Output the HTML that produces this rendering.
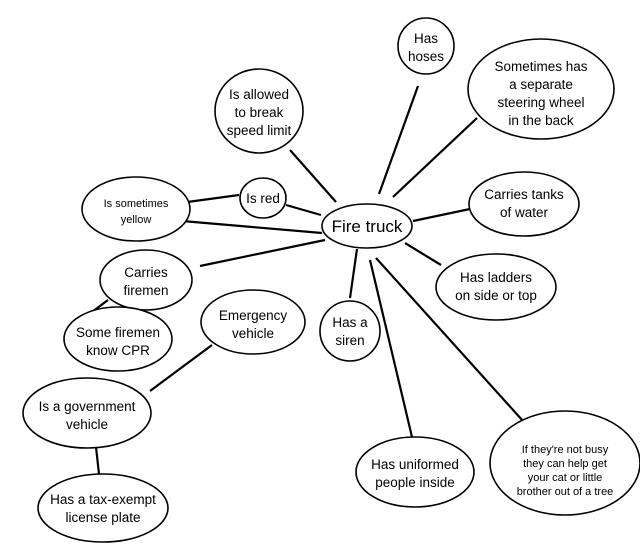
<!DOCTYPE html>
<html><head><meta charset="utf-8"><style>
html,body{margin:0;padding:0;background:#fff;}
svg{display:block;}
text{font-family:"Liberation Sans",Arial,sans-serif;fill:#000;text-anchor:middle;}
</style></head><body>
<svg width="640" height="549" viewBox="0 0 640 549" xmlns="http://www.w3.org/2000/svg">
<g stroke="#000" stroke-width="2.2" fill="none">
<line x1="379" y1="194" x2="418" y2="86"/>
<line x1="393" y1="197" x2="477" y2="118"/>
<line x1="336" y1="202" x2="290" y2="150"/>
<line x1="286" y1="205" x2="321" y2="215"/>
<line x1="180" y1="203" x2="239" y2="195"/>
<line x1="182" y1="221" x2="322" y2="233"/>
<line x1="413" y1="221" x2="470" y2="209"/>
<line x1="405" y1="243" x2="441" y2="265"/>
<line x1="200" y1="266" x2="325" y2="240"/>
<line x1="357" y1="249" x2="350" y2="298"/>
<line x1="370" y1="260" x2="412" y2="437"/>
<line x1="376" y1="258" x2="523" y2="421"/>
<line x1="108" y1="300" x2="92" y2="312"/>
<line x1="212" y1="345" x2="150" y2="391"/>
<line x1="96" y1="447" x2="99" y2="474"/>
</g>
<g stroke="#000" stroke-width="1.6" fill="#fff">
<ellipse cx="367" cy="226" rx="45" ry="22"/>
<ellipse cx="426" cy="46" rx="28" ry="28"/>
<ellipse cx="541" cy="89" rx="73" ry="50"/>
<ellipse cx="259" cy="111" rx="44" ry="42"/>
<ellipse cx="263" cy="198" rx="23" ry="20"/>
<ellipse cx="136" cy="209" rx="54" ry="32"/>
<ellipse cx="524" cy="204" rx="55" ry="32"/>
<ellipse cx="496" cy="287" rx="60" ry="33"/>
<ellipse cx="146" cy="280" rx="46" ry="30"/>
<ellipse cx="253" cy="322" rx="52" ry="32"/>
<ellipse cx="350" cy="331" rx="30" ry="30"/>
<ellipse cx="118" cy="339" rx="54" ry="32"/>
<ellipse cx="87" cy="413" rx="64" ry="35"/>
<ellipse cx="103" cy="508" rx="65" ry="34"/>
<ellipse cx="415" cy="472" rx="59" ry="35"/>
<ellipse cx="565" cy="463" rx="75" ry="52"/>
</g>
<g font-size="13.5">
<text x="367" y="232" font-size="17">Fire truck</text>
<text x="426" y="43">Has</text><text x="426" y="61">hoses</text>
<text x="541" y="71">Sometimes has</text><text x="541" y="89">a separate</text><text x="541" y="107">steering wheel</text><text x="541" y="125">in the back</text>
<text x="259" y="99">Is allowed</text><text x="259" y="117">to break</text><text x="259" y="135">speed limit</text>
<text x="263" y="203">Is red</text>
<text x="136" y="207" font-size="11">Is sometimes</text><text x="136" y="223" font-size="11">yellow</text>
<text x="524" y="199">Carries tanks</text><text x="524" y="217">of water</text>
<text x="496" y="282">Has ladders</text><text x="496" y="300">on side or top</text>
<text x="146" y="277">Carries</text><text x="146" y="295">firemen</text>
<text x="253" y="320">Emergency</text><text x="253" y="338">vehicle</text>
<text x="350" y="327">Has a</text><text x="350" y="345">siren</text>
<text x="118" y="337">Some firemen</text><text x="118" y="355">know CPR</text>
<text x="87" y="411">Is a government</text><text x="87" y="429">vehicle</text>
<text x="103" y="504">Has a tax-exempt</text><text x="103" y="522">license plate</text>
<text x="415" y="469">Has uniformed</text><text x="415" y="487">people inside</text>
<text x="565" y="453" font-size="11">If they're not busy</text><text x="565" y="467" font-size="11">they can help get</text><text x="565" y="481" font-size="11">your cat or little</text><text x="565" y="495" font-size="11">brother out of a tree</text>
</g>
</svg>
</body></html>
